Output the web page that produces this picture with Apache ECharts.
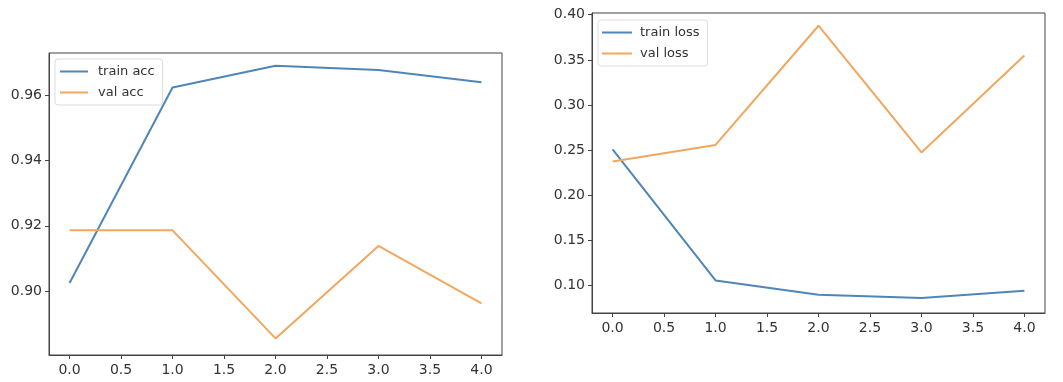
<!DOCTYPE html>
<html>
<head>
<meta charset="utf-8">
<script src="https://cdn.jsdelivr.net/npm/echarts@6/dist/echarts.min.js"></script>
<style>
html,body{margin:0;padding:0;background:#fff;}
#chart{width:1063px;height:382px;}
</style>
</head>
<body>
<div id="chart"></div>
<script>
const epochs = [0, 1, 2, 3, 4];
const trainAcc = [0.9024, 0.9625, 0.9692, 0.9679, 0.9641];
const valAcc = [0.9186, 0.9186, 0.8854, 0.9138, 0.8962];
const trainLoss = [0.251, 0.1059, 0.0900, 0.0864, 0.0945];
const valLoss = [0.2375, 0.2559, 0.3878, 0.2475, 0.3548];
const xTicks = [0, 0.5, 1, 1.5, 2, 2.5, 3, 3.5, 4];
const accTicks = [0.90, 0.92, 0.94, 0.96];
const lossTicks = [0.10, 0.15, 0.20, 0.25, 0.30, 0.35, 0.40];

const blue = '#4f86b6';
const orange = '#f1a75e';
const axisCol = '#444';
const font = 'DejaVu Sans';

function pairs(ys){ return epochs.map((x,i)=>[x, ys[i]]); }

function xAxis(gi){
  return {
    type:'value', gridIndex:gi, min:-0.2, max:4.2,
    axisLine:{show:true, onZero:false, lineStyle:{color:axisCol, width:1}},
    axisTick:{show:true, customValues:xTicks, length:4, lineStyle:{color:axisCol}},
    axisLabel:{customValues:xTicks, margin:8, color:'#333', fontFamily:font, fontSize:14,
      formatter:v=>v.toFixed(1)},
    splitLine:{show:false}
  };
}
function yAxis(gi, min, max, ticks, dec){
  return {
    type:'value', gridIndex:gi, min:min, max:max,
    axisLine:{show:true, onZero:false, lineStyle:{color:axisCol, width:1}},
    axisTick:{show:true, customValues:ticks, length:4, lineStyle:{color:axisCol}},
    axisLabel:{customValues:ticks, margin:7, color:'#333', fontFamily:font, fontSize:14,
      formatter:v=>v.toFixed(dec)},
    splitLine:{show:false}
  };
}

const chart = echarts.init(document.getElementById('chart'), null, {renderer:'canvas'});
chart.setOption({
  animation:false,
  backgroundColor:'#fff',
  grid:[
    {left:49, top:53, width:453, height:302, show:true, borderColor:axisCol, borderWidth:1, backgroundColor:'transparent'},
    {left:592, top:13, width:453, height:300, show:true, borderColor:axisCol, borderWidth:1, backgroundColor:'transparent'}
  ],
  xAxis:[xAxis(0), xAxis(1)],
  yAxis:[yAxis(0, 0.8803, 0.9731, accTicks, 2), yAxis(1, 0.0698, 0.4019, lossTicks, 2)],
  legend:[
    {orient:'vertical', left:55, top:59, icon:'rect', itemWidth:28, itemHeight:2, itemGap:6,
     padding:[5,8,5,5], backgroundColor:'#fff', borderColor:'#ddd', borderWidth:1, borderRadius:3,
     textStyle:{fontFamily:font, fontSize:13, color:'#333', lineHeight:15, padding:[0,0,0,5]},
     data:['train acc','val acc']},
    {orient:'vertical', left:598, top:20, icon:'rect', itemWidth:30, itemHeight:2, itemGap:6,
     padding:[5,8,5,4], backgroundColor:'#fff', borderColor:'#ddd', borderWidth:1, borderRadius:3,
     textStyle:{fontFamily:font, fontSize:13, color:'#333', lineHeight:15, padding:[0,0,0,3]},
     data:['train loss','val loss']}
  ],
  series:[
    {name:'train acc', type:'line', xAxisIndex:0, yAxisIndex:0, data:pairs(trainAcc), symbol:'none', lineStyle:{color:blue, width:2}, itemStyle:{color:blue}},
    {name:'val acc', type:'line', xAxisIndex:0, yAxisIndex:0, data:pairs(valAcc), symbol:'none', lineStyle:{color:orange, width:2}, itemStyle:{color:orange}},
    {name:'train loss', type:'line', xAxisIndex:1, yAxisIndex:1, data:pairs(trainLoss), symbol:'none', lineStyle:{color:blue, width:2}, itemStyle:{color:blue}},
    {name:'val loss', type:'line', xAxisIndex:1, yAxisIndex:1, data:pairs(valLoss), symbol:'none', lineStyle:{color:orange, width:2}, itemStyle:{color:orange}}
  ]
});
</script>
</body>
</html>
